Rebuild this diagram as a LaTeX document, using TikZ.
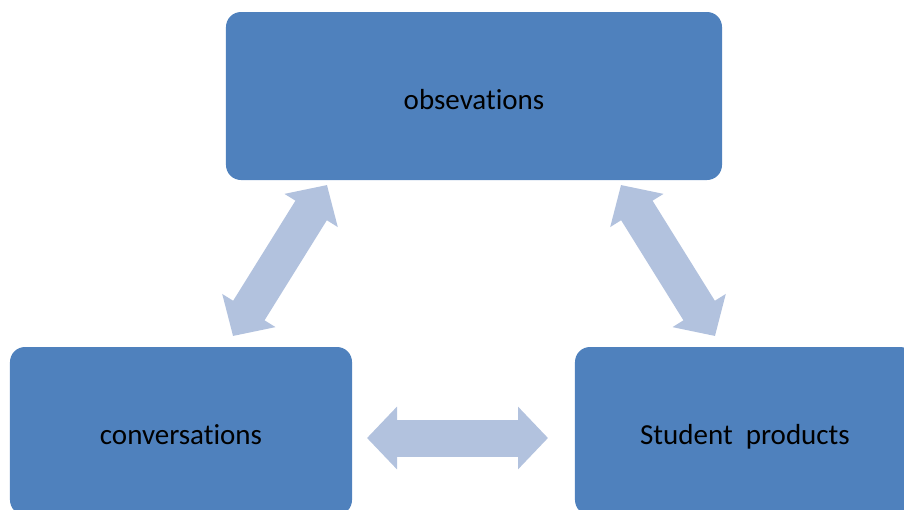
\documentclass[tikz,border=0pt]{standalone}
\usepackage{fontspec}
\setmainfont[Ligatures=NoCommon]{Carlito}
\usetikzlibrary{arrows.meta}
\definecolor{boxblue}{RGB}{79,129,189}
\definecolor{arrowblue}{RGB}{178,194,222}
\tikzset{
    stage/.style={fill=boxblue, rounded corners=3mm, inner sep=0pt, text=black,
        text height=15pt, text depth=0pt, font=\fontsize{16.5}{19}\selectfont},
    link/.style={arrowblue, line width=7.4mm,
        {Triangle[length=6mm,width=12.2mm]}-{Triangle[length=6mm,width=12.2mm]}}
}
\begin{document}
\begin{tikzpicture}[x=0.2mm, y=-0.2mm]
    \clip (0,0) rectangle (904,510);

    % Draw boxes
    \node [stage, minimum width=99.2mm, minimum height=33.6mm] (obs) at (474,96) {obsevations};
    \node [stage, minimum width=68.4mm, minimum height=33.6mm] (conv) at (181,431) {conversations};
    \node [stage, minimum width=68mm, minimum height=33.6mm] (prod) at (745,431) {Student~~products};

    % Arrow ends
    \coordinate (obsl) at (327,185);
    \coordinate (convt) at (233,336);
    \coordinate (obsr) at (621,185);
    \coordinate (prodt) at (715,336);
    \coordinate (convr) at (367,438);
    \coordinate (prodl) at (548,438);

    \draw [link] (convt) -- (obsl);
    \draw [link] (obsr) -- (prodt);
    \draw [link] (convr) -- (prodl);

\end{tikzpicture}
\end{document}
